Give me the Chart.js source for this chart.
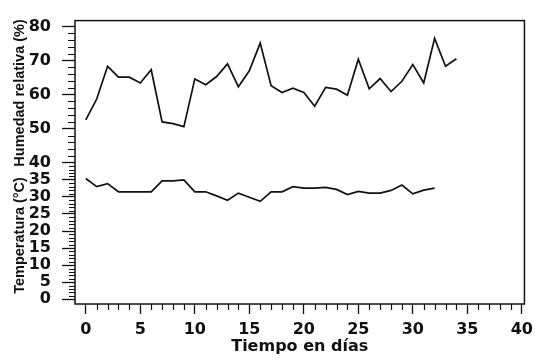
<!DOCTYPE html>
<html>
<head>
<meta charset="utf-8">
<script src="https://cdn.jsdelivr.net/npm/chart.js@4"></script>
<style>
  html, body { margin: 0; padding: 0; background: #fff; }
  canvas { display: block; }
</style>
</head>
<body>
<canvas id="c" width="539" height="362"></canvas>
<script>
// ---- data ----
const diasHumedad = [0,1,2,3,4,5,6,7,8,9,10,11,12,13,14,15,16,17,18,19,20,21,22,23,24,25,26,27,28,29,30,31,32,33,34];
const humedad = [52.6,58.7,68.3,65.1,65.1,63.4,67.3,52.0,51.5,50.6,64.6,62.9,65.3,69.0,62.3,67.0,75.1,62.6,60.6,61.9,60.6,56.6,62.1,61.6,59.8,70.4,61.7,64.7,60.9,63.9,68.8,63.4,76.5,68.3,70.5];
const diasTemperatura = [0,1,2,3,4,5,6,7,8,9,10,11,12,13,14,15,16,17,18,19,20,21,22,23,24,25,26,27,28,29,30,31,32];
const temperatura = [35.4,33.0,33.9,31.5,31.5,31.5,31.5,34.7,34.7,35.0,31.5,31.5,30.3,29.0,31.1,29.9,28.7,31.5,31.5,33.0,32.6,32.6,32.8,32.2,30.7,31.6,31.1,31.1,31.9,33.5,30.9,32.0,32.6];
const xTickLabels = [0,5,10,15,20,25,30,35,40];
const yTickLabels = [0,5,10,15,20,25,30,35,40,50,60,70,80];
const xTitle = 'Tiempo en días';
const yTitleHumedad = 'Humedad relativa (%)';
const yTitleTemperatura = 'Temperatura (°C)';

const INK = '#111';

const decor = {
  id: 'decor',
  afterDraw(chart) {
    const ctx = chart.ctx;
    const a = chart.chartArea;
    const xs = chart.scales.x, ys = chart.scales.y;
    ctx.save();
    ctx.strokeStyle = INK;
    ctx.lineWidth = 1.5;
    ctx.strokeRect(a.left, a.top, a.right - a.left, a.bottom - a.top);
    ctx.lineWidth = 1.2;
    ctx.beginPath();
    for (let d = 0; d <= 40; d++) {
      if (d % 5 === 0) continue;
      const px = Math.round(xs.getPixelForValue(d)) + 0.5;
      ctx.moveTo(px, a.bottom);
      ctx.lineTo(px, a.bottom + 6);
    }
    for (let v = 0; v <= 40; v++) {
      if (v % 5 === 0) continue;
      const py = Math.round(ys.getPixelForValue(v)) + 0.5;
      ctx.moveTo(a.left - 6, py);
      ctx.lineTo(a.left, py);
    }
    for (let v = 42; v <= 80; v += 2) {
      if (v % 10 === 0) continue;
      const py = Math.round(ys.getPixelForValue(v)) + 0.5;
      ctx.moveTo(a.left - 7, py);
      ctx.lineTo(a.left, py);
    }
    ctx.stroke();
    ctx.fillStyle = INK;
    ctx.font = 'bold 14.5px "Liberation Sans", Arial, sans-serif';
    ctx.textAlign = 'center';
    ctx.textBaseline = 'middle';
    const drawV = (txt, y) => {
      ctx.save();
      ctx.translate(20, y);
      ctx.rotate(-Math.PI / 2);
      ctx.fillText(txt, 0, 0);
      ctx.restore();
    };
    drawV(yTitleHumedad, ys.getPixelForValue(60.5));
    drawV(yTitleTemperatura, ys.getPixelForValue(18.7));
    ctx.restore();
  }
};

new Chart(document.getElementById('c'), {
  type: 'line',
  data: {
    datasets: [
      {
        data: diasHumedad.map((d, i) => ({ x: d, y: humedad[i] })),
        borderColor: INK, borderWidth: 1.7, pointRadius: 0, tension: 0, fill: false
      },
      {
        data: diasTemperatura.map((d, i) => ({ x: d, y: temperatura[i] })),
        borderColor: INK, borderWidth: 1.7, pointRadius: 0, tension: 0, fill: false
      }
    ]
  },
  options: {
    responsive: false,
    animation: false,
    devicePixelRatio: 1,
    layout: { padding: { left: 0, top: 8, right: 7, bottom: 0 } },
    plugins: { legend: { display: false }, tooltip: { enabled: false } },
    scales: {
      x: {
        type: 'linear',
        min: -0.99, max: 40.24,
        afterBuildTicks(s) { s.ticks = xTickLabels.map(v => ({ value: v })); },
        afterFit(s) { s.height = 58; },
        grid: { drawOnChartArea: false, drawTicks: true, tickLength: 10, tickColor: INK, tickWidth: 1.3 },
        border: { display: false },
        ticks: {
          color: INK, padding: 6, maxRotation: 0, autoSkip: false,
          font: { family: '"DejaVu Sans"', weight: 'bold', size: 16 }
        },
        title: {
          display: true, text: xTitle, color: INK,
          font: { family: '"DejaVu Sans"', weight: 'bold', size: 16 },
          padding: { top: 0, bottom: 6 }
        }
      },
      y: {
        type: 'linear',
        min: -1.4, max: 81.7,
        afterBuildTicks(s) { s.ticks = yTickLabels.map(v => ({ value: v })); },
        afterFit(s) { s.width = 75; },
        grid: { drawOnChartArea: false, drawTicks: true, tickLength: 13, tickColor: INK, tickWidth: 1.3 },
        border: { display: false },
        ticks: {
          color: INK, padding: 11, autoSkip: false,
          font: { family: '"DejaVu Sans"', weight: 'bold', size: 16 }
        }
      }
    }
  },
  plugins: [decor]
});
</script>
</body>
</html>
